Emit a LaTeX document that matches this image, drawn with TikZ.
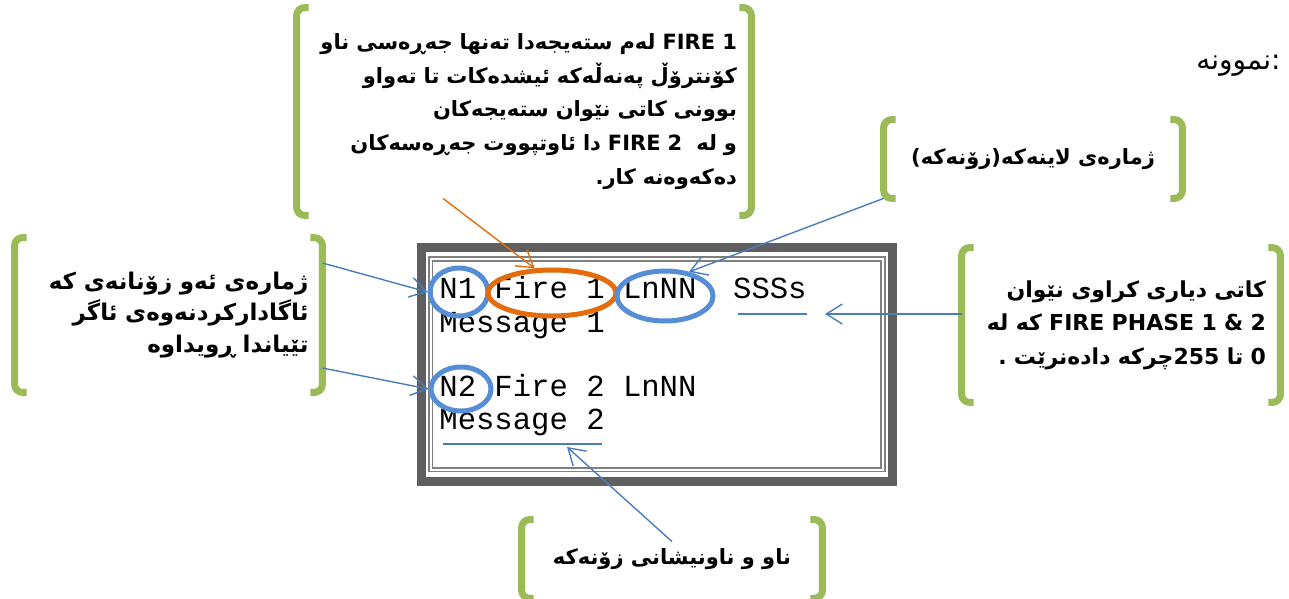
\documentclass[tikz,border=0pt]{standalone}
\usepackage{fontspec}
\setmonofont{Liberation Mono}
\newfontfamily\kurdfont[Script=Arabic]{DejaVu Sans}
\TeXXeTstate=1
\usepackage{xcolor}
\definecolor{bracketgreen}{RGB}{155,187,89}
\definecolor{ringblue}{RGB}{85,142,213}
\definecolor{linkblue}{RGB}{74,126,187}
\definecolor{fireorange}{RGB}{228,108,10}
\definecolor{framegray}{RGB}{95,95,95}
\usetikzlibrary{shapes.geometric,arrows.meta,calc}

\begin{document}
\begin{tikzpicture}[
  x=0.5pt, y=-0.5pt,
  note/.style={inner ysep=0pt, inner xsep=7pt, align=right, font=\kurdfont\bfseries\fontsize{10.5}{16.8}\selectfont},
  lcd/.style={anchor=base west, inner sep=0pt, font=\ttfamily\fontsize{15.3}{18}\selectfont},
  ringmark/.style={draw=ringblue, ellipse, line width=2.5pt, inner sep=0pt},
  firemark/.style={ringmark, draw=fireorange},
  bracketline/.style={draw=bracketgreen, line width=3.5pt, rounded corners=4pt},
  pointer/.style={-{Straight Barb[length=8pt, width=10pt]}, line width=0.7pt, color=linkblue},
  markline/.style={line width=0.8pt, color=linkblue}
]
\useasboundingbox (0,0) rectangle (1289,599);

% notes
\node[note, text width=213pt, minimum height=103.5pt] (noteTop) at (524,111.5)
  {\beginR\beginL FIRE 1\endL{} لەم ستەیجەدا تەنها جەڕەسی ناو\endR\\
   \beginR کۆنترۆڵ پەنەڵەکە ئیشدەکات تا تەواو\endR\\
   \beginR بوونی کاتی نێوان ستەیجەکان\endR\\
   \beginR و لە\ \ \beginL FIRE 2\endL{} دا ئاوتپووت جەڕەسەکان\endR\\
   \beginR دەکەوەنە کار.\endR};
\node[note, text width=140pt, inner xsep=6.75pt, minimum height=77pt,
  font=\kurdfont\bfseries\fontsize{11.5}{15.8}\selectfont] (noteZone) at (168.5,315)
  {\beginR ژمارەی ئەو زۆنانەی کە\endR\\
   \beginR ئاگادارکردنەوەی ئاگر\endR\\
   \beginR تێیاندا ڕویداوە\endR};
\node[note, inner xsep=0pt, minimum width=149pt, minimum height=39pt] (noteLine) at (1033,159)
  {\beginR ژمارەی لاینەکە(زۆنەکە)\endR};
\node[note, text width=145pt, minimum height=77pt,
  font=\kurdfont\bfseries\fontsize{11}{16.7}\selectfont] (noteTime) at (1121,325)
  {\beginR کاتی دیاری کراوی نێوان\endR\\
   \beginR\beginL FIRE PHASE 1 \& 2\endL{} کە لە\endR\\
   \beginR 0 تا 255چرکە دادەنرێت .\endR};
\node[note, inner xsep=0pt, minimum width=150pt, minimum height=39pt] (noteName) at (672,559)
  {\beginR ناو و ناونیشانی زۆنەکە\endR};
\node[anchor=east, inner sep=0pt, font=\kurdfont\fontsize{14}{16}\selectfont] (sample) at (1281,66)
  {\beginR نموونە\endR:};

\foreach \b in {noteTop, noteZone, noteLine, noteTime, noteName} {
  \draw[bracketline] ([xshift=6pt]\b.north west) -- (\b.north west) -- (\b.south west) -- ([xshift=6pt]\b.south west);
  \draw[bracketline] ([xshift=-6pt]\b.north east) -- (\b.north east) -- (\b.south east) -- ([xshift=-6pt]\b.south east);
}

% display
\draw[framegray, line width=4.5pt] (421.5,247) rectangle (892.5,481.5);
\draw[gray, line width=0.8pt, double=white, double distance=1pt] (430.5,259) rectangle (883,469.5);
\node[lcd] (rowA) at (439,298) {N1 Fire 1 LnNN\ \ SSSs};
\node[lcd] (rowB) at (439,332) {Message 1};
\node[lcd] (rowC) at (439,396) {N2 Fire 2 LnNN};
\node[lcd] (rowD) at (439,429) {Message 2};

\node[ringmark, minimum width=29pt, minimum height=24pt] (ringN1) at (459,292) {};
\node[firemark, minimum width=64pt, minimum height=23pt] (ringFire) at (552,293) {};
\node[ringmark, minimum width=48pt, minimum height=25pt] (ringLn) at (665,296) {};
\node[ringmark, minimum width=30pt, minimum height=22pt] (ringN2) at (461,389) {};

\coordinate (ulS1) at (738,314);
\coordinate (ulS2) at (807,314);
\coordinate (ulM1) at (443,444);
\coordinate (ulM2) at (602,444);
\coordinate (tipS) at ($(ulS2)+(18,0)$);
\coordinate (tipM) at ($(ulM1)!0.78!(ulM2)+(0,3)$);
\draw[markline] (ulS1) -- (ulS2);
\draw[markline] (ulM1) -- (ulM2);

% pointers
\draw[pointer] ([yshift=26pt]noteZone.east) -- (ringN1.west);
\draw[pointer] ([yshift=-26.5pt]noteZone.east) -- (ringN2.west);
\draw[pointer, color=fireorange] ([xshift=-40.5pt, yshift=8.5pt]noteTop.south) -- (ringFire.125);
\draw[pointer] (noteLine.south west) -- (ringLn.45);
\draw[pointer] ([yshift=5.5pt]noteTime.west) -- (tipS);
\draw[pointer] ([yshift=-11pt]noteName.north) -- (tipM);
\end{tikzpicture}
\end{document}
